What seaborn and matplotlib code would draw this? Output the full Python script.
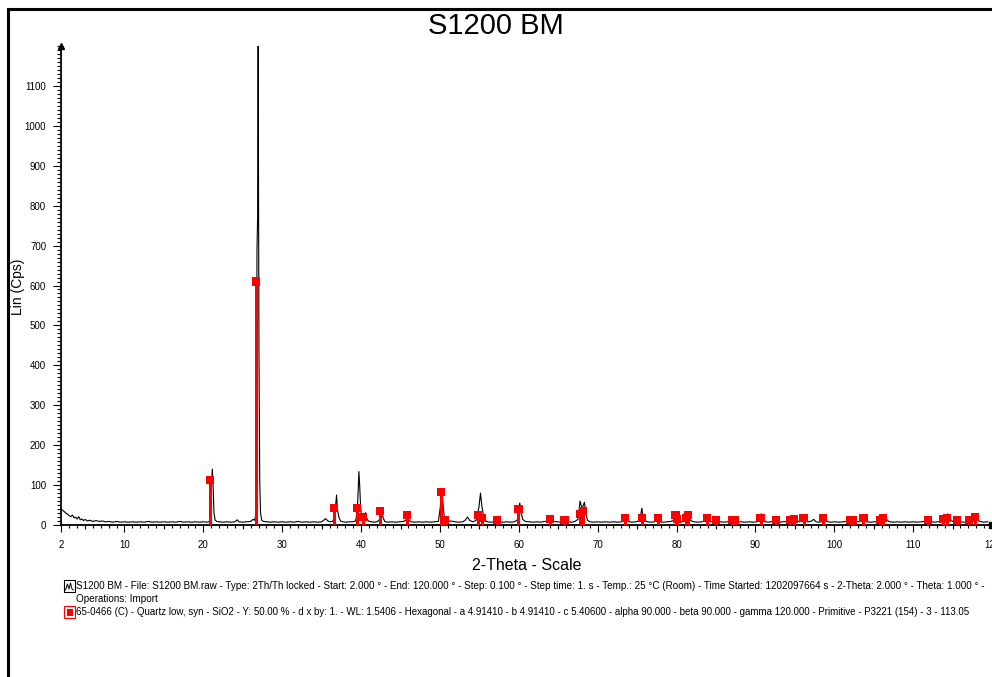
import matplotlib
matplotlib.use("Agg")
import matplotlib.pyplot as plt
from matplotlib.patches import Rectangle
from matplotlib.ticker import MultipleLocator
import seaborn as sns
import pandas as pd

two_theta = [
    2.0, 2.2, 2.4, 2.6, 2.8, 3.0, 3.2, 3.4, 3.6, 3.8, 4.0, 4.2, 4.4, 4.6, 4.8, 5.0, 5.3, 5.6,
    6.0, 6.4, 6.8, 7.2, 7.6, 8.0, 8.5, 9.0, 9.5, 10.0, 10.5, 11.0, 11.5, 12.0, 12.5, 13.0,
    13.5, 14.0, 14.5, 15.0, 15.5, 16.0, 16.5, 17.0, 17.5, 18.0, 18.5, 19.0, 19.5, 20.0, 20.5,
    20.8, 20.95, 21.05, 21.14, 21.25, 21.35, 21.5, 21.7, 22.0, 22.5, 23.0, 23.5, 24.0, 24.3,
    24.5, 25.0, 25.5, 26.0, 26.3, 26.5, 26.7, 26.8, 26.88, 26.95, 27.05, 27.15, 27.25, 27.4,
    27.6, 28.0, 28.5, 29.0, 29.5, 30.0, 30.5, 31.0, 31.5, 32.0, 32.5, 33.0, 33.5, 34.0, 34.5,
    35.0, 35.2, 35.5, 35.8, 36.1, 36.4, 36.6, 36.8, 36.89, 37.0, 37.2, 37.4, 37.7, 38.1, 38.5,
    38.9, 39.3, 39.5, 39.62, 39.72, 39.82, 39.95, 40.1, 40.3, 40.45, 40.55, 40.7, 40.9, 41.3,
    41.7, 42.1, 42.4, 42.64, 42.8, 43.0, 43.4, 43.9, 44.4, 44.9, 45.4, 45.8, 45.93, 46.1, 46.4,
    46.8, 47.3, 47.8, 48.3, 48.8, 49.3, 49.8, 50.05, 50.2, 50.35, 50.55, 50.75, 51.0, 51.4,
    51.9, 52.4, 52.9, 53.2, 53.5, 53.8, 54.2, 54.6, 54.95, 55.14, 55.3, 55.5, 55.7, 56.0, 56.4,
    56.9, 57.2, 57.6, 58.0, 58.5, 59.0, 59.4, 59.8, 59.98, 60.12, 60.3, 60.5, 60.8, 61.3, 61.8,
    62.3, 62.8, 63.3, 63.8, 64.1, 64.4, 64.8, 65.3, 65.8, 66.2, 66.7, 67.1, 67.5, 67.65, 67.77,
    67.9, 68.05, 68.2, 68.32, 68.5, 68.7, 69.0, 69.5, 70.0, 70.5, 71.0, 71.5, 72.0, 72.5, 73.0,
    73.3, 73.6, 73.9, 74.3, 74.8, 75.2, 75.45, 75.6, 75.75, 76.0, 76.3, 76.8, 77.2, 77.6, 77.9,
    78.3, 78.8, 79.3, 79.8, 80.1, 80.4, 80.7, 81.0, 81.3, 81.55, 81.8, 82.2, 82.7, 83.2, 83.7,
    84.0, 84.3, 84.8, 85.2, 85.6, 86.0, 86.5, 86.9, 87.3, 87.7, 88.2, 88.7, 89.2, 89.7, 90.2,
    90.55, 90.75, 90.95, 91.3, 91.7, 92.2, 92.6, 93.0, 93.5, 94.0, 94.5, 95.0, 95.25, 95.6,
    96.0, 96.3, 96.6, 97.0, 97.4, 97.7, 98.1, 98.5, 98.8, 99.2, 99.6, 100.1, 100.6, 101.1,
    101.6, 102.0, 102.4, 102.8, 103.2, 103.5, 103.8, 104.1, 104.6, 105.1, 105.6, 106.0, 106.4,
    106.7, 107.0, 107.5, 108.0, 108.5, 109.0, 109.5, 110.0, 110.5, 111.0, 111.5, 111.9, 112.3,
    112.7, 113.1, 113.5, 113.8, 114.1, 114.4, 114.7, 115.0, 115.3, 115.6, 116.0, 116.5, 117.0,
    117.4, 117.8, 118.1, 118.5, 118.9, 119.3, 119.5,
]
counts = [
    40, 36, 33, 29, 27, 23, 21, 25, 18, 20, 15, 21, 13, 15, 11, 14, 10, 12,
    9, 11, 9, 10, 8, 9, 7, 9, 7, 8, 7, 8, 7, 8, 7, 9,
    7, 8, 7, 8, 7, 8, 7, 9, 7, 8, 7, 8, 7, 8, 7,
    9, 55, 110, 140, 90, 30, 12, 9, 8, 7, 8, 7, 8, 13,
    8, 7, 8, 9, 14, 12, 30, 690, 770, 1200, 440, 110, 30, 12,
    9, 8, 7, 8, 7, 8, 7, 8, 7, 9, 7, 8, 7, 8, 7,
    8, 11, 16, 10, 8, 9, 20, 55, 75, 40, 18, 10, 8, 7, 8,
    8, 10, 30, 80, 134, 100, 40, 15, 12, 28, 31, 18, 10, 8,
    7, 9, 15, 30, 18, 9, 7, 8, 7, 8, 9, 14, 20, 11, 8,
    7, 8, 7, 8, 7, 8, 9, 45, 88, 60, 20, 14, 9, 10,
    8, 7, 8, 12, 20, 11, 8, 12, 45, 80, 50, 25, 12, 8, 7,
    8, 10, 8, 7, 8, 7, 8, 12, 40, 55, 30, 14, 9, 8, 7,
    8, 7, 9, 10, 14, 9, 8, 7, 10, 8, 7, 9, 14, 40, 60,
    50, 42, 50, 57, 30, 12, 8, 7, 8, 7, 8, 7, 8, 7, 8,
    10, 14, 9, 7, 8, 10, 25, 42, 22, 12, 8, 7, 8, 12, 8,
    7, 8, 9, 13, 16, 10, 8, 10, 14, 18, 11, 8, 7, 8, 10,
    12, 8, 9, 7, 8, 7, 8, 10, 9, 7, 8, 7, 8, 7, 8,
    12, 28, 12, 8, 7, 9, 8, 7, 8, 9, 10, 22, 11, 8,
    10, 13, 8, 9, 14, 8, 7, 9, 12, 8, 7, 8, 7, 8,
    9, 11, 13, 9, 8, 10, 14, 8, 7, 8, 9, 13, 25,
    12, 8, 7, 8, 7, 8, 7, 8, 7, 8, 9, 11, 8,
    7, 8, 9, 13, 18, 28, 14, 9, 8, 10, 8, 7, 9,
    10, 8, 12, 9, 7, 8, 8,
]

# reference pattern 65-0466 quartz (stick positions / heights)
stick_pos = [20.86, 26.64, 36.55, 39.47, 40.29, 42.45, 45.79, 50.14, 50.62, 54.87, 55.32,
             57.24, 59.96, 63.99, 65.79, 67.74, 68.14, 73.47, 75.66, 77.67, 79.87, 80.04,
             81.17, 81.49, 83.84, 84.95, 87.0, 87.4, 90.65, 92.6, 94.4, 94.9, 96.1, 98.6,
             102.0, 102.4, 103.7, 105.8, 106.2, 111.9, 113.8, 114.3, 115.6, 117.1, 117.9]
stick_int = [113, 610, 43, 43, 20, 36, 24, 83, 12, 24, 18,
             12, 40, 16, 12, 28, 35, 17, 17, 17, 25, 16,
             17, 25, 18, 13, 13, 13, 18, 12, 13, 16, 17, 17,
             13, 13, 17, 13, 18, 13, 14, 18, 13, 13, 20]

x_ticks = [2, 10, 20, 30, 40, 50, 60, 70, 80, 90, 100, 110, 120]
y_ticks = list(range(0, 1200, 100))

title = "S1200 BM"
x_label = "2-Theta - Scale"
y_label = "Lin (Cps)"
legend_scan = ("S1200 BM - File: S1200 BM.raw - Type: 2Th/Th locked - Start: 2.000 \u00b0 - "
               "End: 120.000 \u00b0 - Step: 0.100 \u00b0 - Step time: 1. s - Temp.: 25 \u00b0C (Room) - "
               "Time Started: 1202097664 s - 2-Theta: 2.000 \u00b0 - Theta: 1.000 \u00b0 -")
legend_ops = "Operations: Import"
legend_ref = ("65-0466 (C) - Quartz low, syn - SiO2 - Y: 50.00 % - d x by: 1. - WL: 1.5406 - "
              "Hexagonal - a 4.91410 - b 4.91410 - c 5.40600 - alpha 90.000 - beta 90.000 - "
              "gamma 120.000 - Primitive - P3221 (154) - 3 - 113.05")

scan = pd.DataFrame({"two_theta": two_theta, "counts": counts})
ref = pd.DataFrame({"two_theta": stick_pos, "counts": stick_int})

sns.set_style("white")
plt.rcParams["font.family"] = ["Liberation Sans", "DejaVu Sans"]
plt.rcParams["text.color"] = "black"
plt.rcParams["xtick.color"] = "black"
plt.rcParams["ytick.color"] = "black"

W, H = 992, 677
fig = plt.figure(figsize=(W / 100, H / 100), dpi=100)


def fx(px):
    return px / W


def fy(py):
    return 1 - py / H


x0, xscale = 61.4, 7.92
ax = fig.add_axes([fx(x0), fy(525), 1 - fx(x0), (525 - 46) / H])

sns.lineplot(data=scan, x="two_theta", y="counts", ax=ax, color="black", lw=0.8,
             sort=False, estimator=None)
ax.vlines(ref["two_theta"], 0, ref["counts"], color="#ff0000", lw=2.2, zorder=3)
sns.scatterplot(data=ref, x="two_theta", y="counts", ax=ax, marker="s", s=34,
                color="#ff0000", edgecolor="none", zorder=4)

ax.set_xlim(2, 2 + (W - x0) / xscale)
ax.set_ylim(0, 1200)
ax.set_xlabel("")
ax.set_ylabel("")
sns.despine(ax=ax)
for s in ["left", "bottom"]:
    ax.spines[s].set_linewidth(1.3)
    ax.spines[s].set_color("black")

ax.set_xticks(x_ticks)
ax.xaxis.set_minor_locator(MultipleLocator(1))
ax.set_yticks(y_ticks)
ax.yaxis.set_minor_locator(MultipleLocator(10))
ax.tick_params(axis="both", which="major", direction="out", color="black", width=0.8,
               labelsize=7, labelcolor="black")
ax.tick_params(axis="x", which="major", length=5, pad=6)
ax.tick_params(axis="x", which="minor", length=2, width=0.8, color="black")
ax.tick_params(axis="y", which="major", length=6, pad=5)
ax.tick_params(axis="y", which="minor", length=3, width=0.8, color="black")
ax.tick_params(bottom=True, left=True, which="both")

sec = ax.secondary_xaxis("bottom")
sec.set_xticks(list(range(5, 120, 10)))
sec.tick_params(length=3.2, width=0.8, color="black", labelbottom=False)
sec.spines["bottom"].set_visible(False)

# axis arrow heads
ax.plot([2], [1200], marker="^", color="black", ms=4, clip_on=False)
ax.plot([ax.get_xlim()[1]], [0], marker="s", color="black", ms=4, clip_on=False)

fig.text(0.5, fy(34), title, fontsize=21, ha="center", va="baseline")
fig.text(fx(527), fy(566), x_label, fontsize=11.5, ha="center", va="center")
fig.text(fx(18), fy(287), y_label, fontsize=10, rotation=90, ha="center", va="center")

# legend block
t1 = fig.text(fx(76), fy(586), legend_scan, fontsize=6.5, ha="left", va="center")
t2 = fig.text(fx(76), fy(599), legend_ops, fontsize=6.5, ha="left", va="center")
t3 = fig.text(fx(76), fy(612), legend_ref, fontsize=6.5, ha="left", va="center")
fig.canvas.draw()
r = fig.canvas.get_renderer()
fs1 = 6.5 * (978 - 76) / t1.get_window_extent(r).width
fs3 = 6.5 * (975 - 76) / t3.get_window_extent(r).width
t1.set_fontsize(fs1)
t2.set_fontsize(fs1)
t3.set_fontsize(fs3)

fig.patches.append(Rectangle((fx(64), fy(592)), 11 / W, 12 / H, transform=fig.transFigure,
                             fill=False, ec="black", lw=0.8))
fig.lines.append(plt.Line2D([fx(65.5), fx(67.5), fx(69), fx(70.5), fx(72), fx(73.5)],
                            [fy(590), fy(584), fy(589), fy(583), fy(589), fy(590)],
                            transform=fig.transFigure, color="black", lw=0.7))
fig.patches.append(Rectangle((fx(64), fy(618)), 11 / W, 12 / H, transform=fig.transFigure,
                             fill=False, ec="#ff0000", lw=0.8))
fig.patches.append(Rectangle((fx(66.5), fy(615.5)), 6 / W, 7 / H, transform=fig.transFigure,
                             fc="#ff0000", ec="none"))

# outer frame
fig.patches.append(Rectangle((fx(8), -0.05), 1.2, fy(8.5) + 0.05, transform=fig.transFigure,
                             fill=False, ec="black", lw=2.2))

fig.savefig("out.png", dpi=100, facecolor="white")
